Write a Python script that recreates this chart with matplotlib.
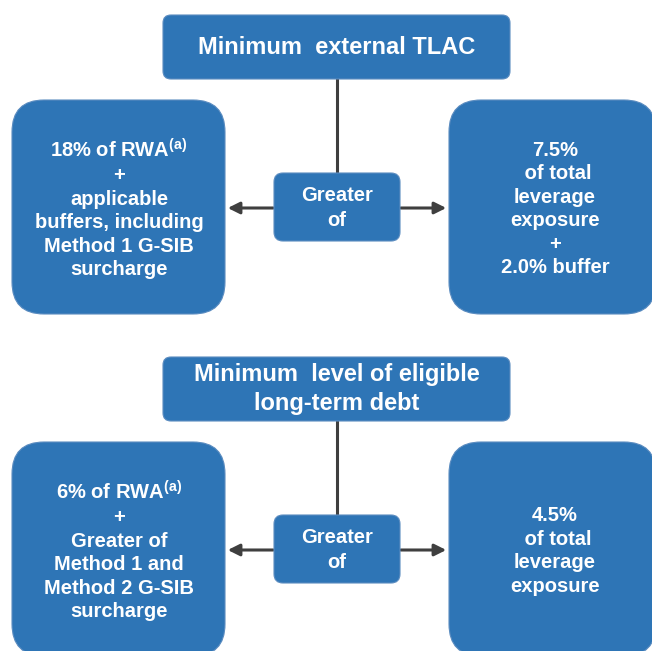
import matplotlib
matplotlib.use("Agg")
import matplotlib.pyplot as plt
from matplotlib.patches import FancyBboxPatch

plt.rcParams['font.family'] = ['Liberation Sans', 'DejaVu Sans']
plt.rcParams['mathtext.default'] = 'regular'

box_color = "#2E75B6"
line_color = "#3f3f3f"

# text of each panel: title, left box, right box
titles = ["Minimum  external TLAC", "Minimum  level of eligible\nlong-term debt"]
left_texts = [
    "18% of RWA$^{(a)}$\n+\napplicable\nbuffers, including\nMethod 1 G-SIB\nsurcharge",
    "6% of RWA$^{(a)}$\n+\nGreater of\nMethod 1 and\nMethod 2 G-SIB\nsurcharge",
]
right_texts = [
    "7.5%\n of total\nleverage\nexposure\n+\n2.0% buffer",
    "4.5%\n of total\nleverage\nexposure",
]
middle_text = "Greater\nof"

# vertical offset of each panel (pixels)
panel_top = [0, 342]

fig = plt.figure(figsize=(6.52, 6.51), dpi=100)
ax = fig.add_axes([0, 0, 1, 1])
ax.set_xlim(0, 652)
ax.set_ylim(651, 0)
ax.axis("off")


def rbox(x0, y0, x1, y1, r):
    p = FancyBboxPatch((x0 + r, y0 + r), (x1 - x0) - 2 * r, (y1 - y0) - 2 * r,
                       boxstyle="round,pad=%f" % r, fc=box_color,
                       ec="#5b8cc0", lw=0.8, zorder=2)
    ax.add_patch(p)


for i, dy in enumerate(panel_top):
    # connector line
    ax.plot([337, 337], [dy + 78, dy + 175], color=line_color, lw=2.2, zorder=1)
    # arrows
    ax.annotate("", xy=(225, dy + 208), xytext=(276, dy + 208),
                arrowprops=dict(arrowstyle="-|>,head_length=0.7,head_width=0.35",
                                color=line_color, lw=2.2), zorder=1)
    ax.annotate("", xy=(449, dy + 208), xytext=(398, dy + 208),
                arrowprops=dict(arrowstyle="-|>,head_length=0.7,head_width=0.35",
                                color=line_color, lw=2.2), zorder=1)

    rbox(163, dy + 15, 510, dy + 79, 8)
    rbox(274, dy + 173, 400, dy + 241, 9)
    rbox(12, dy + 100, 225, dy + 314, 32)
    rbox(449, dy + 100, 656, dy + 314, 32)

    ax.text(337, dy + 47, titles[i], ha="center", va="center", color="white",
            fontsize=17, fontweight="bold", linespacing=1.3, zorder=3)
    ax.text(337, dy + 208, middle_text, ha="center", va="center", color="white",
            fontsize=14.5, fontweight="bold", linespacing=1.35, zorder=3)
    ax.text(119, dy + 209, left_texts[i], ha="center", va="center", color="white",
            fontsize=14.5, fontweight="bold", linespacing=1.3, zorder=3)
    ax.text(555, dy + 209, right_texts[i], ha="center", va="center", color="white",
            fontsize=14.5, fontweight="bold", linespacing=1.3, zorder=3)

fig.savefig("out.png", dpi=100)
